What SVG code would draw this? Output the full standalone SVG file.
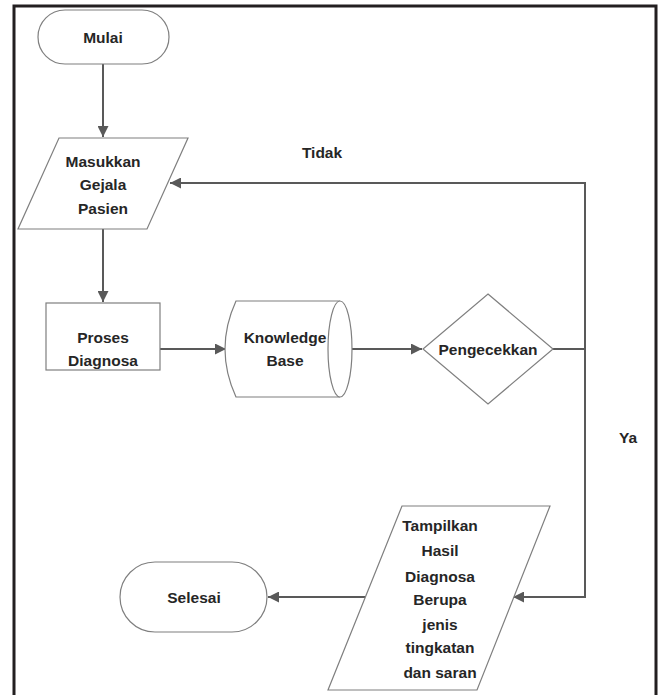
<svg xmlns="http://www.w3.org/2000/svg" width="662" height="695" viewBox="0 0 662 695">
<style>
.shape{fill:#fff;stroke:#7f7f7f;stroke-width:1.2}
.conn{fill:none;stroke:#595959;stroke-width:2}
.t{font-family:"Liberation Sans",Arial,sans-serif;font-weight:bold;font-size:15.5px;fill:#262626;text-anchor:middle}
</style>
<defs>
<marker id="ah" viewBox="0 0 10 10" refX="10" refY="5" markerWidth="11" markerHeight="11" markerUnits="userSpaceOnUse" orient="auto">
<path d="M0,0 L10,5 L0,10 z" fill="#595959"/>
</marker>
</defs>
<rect width="662" height="695" fill="#fff"/>
<path d="M14,700 V6 H656 V700" fill="none" stroke="#231f20" stroke-width="3"/>
<g id="connectors">
<path class="conn" d="M103,64 V137" marker-end="url(#ah)"/>
<path class="conn" d="M103,229 V302" marker-end="url(#ah)"/>
<path class="conn" d="M160,349 H226" marker-end="url(#ah)"/>
<path class="conn" d="M340,349 H422" marker-end="url(#ah)"/>
<path class="conn" d="M553,349 H585 V183 H170" marker-end="url(#ah)"/>
<path class="conn" d="M585,349 V597 H513" marker-end="url(#ah)"/>
<path class="conn" d="M365,597 H268" marker-end="url(#ah)"/>
<text class="t" x="322" y="158">Tidak</text>
<text class="t" x="628" y="443">Ya</text>
</g>
<g id="mulai">
<rect class="shape" x="38" y="10" width="131" height="54" rx="27"/>
<text class="t" x="103" y="43">Mulai</text>
</g>
<g id="masukkan">
<path class="shape" d="M59,138 H188 L147,229 H18 z"/>
<text class="t" x="103" y="167">Masukkan</text>
<text class="t" x="103" y="190">Gejala</text>
<text class="t" x="103" y="214">Pasien</text>
</g>
<g id="proses">
<rect class="shape" x="46" y="303" width="114" height="67"/>
<text class="t" x="103" y="343">Proses</text>
<text class="t" x="103" y="366">Diagnosa</text>
</g>
<g id="knowledge">
<path class="shape" d="M236,301 H340 A12,48 0 0 1 340,397 H236 Q214,349 236,301 z"/>
<path class="shape" fill="none" d="M340,301 A12,48 0 0 0 340,397"/>
<text class="t" x="285" y="343">Knowledge</text>
<text class="t" x="285" y="366">Base</text>
</g>
<g id="pengecekkan">
<path class="shape" d="M488,294 L553,349 L488,404 L423,349 z"/>
<text class="t" x="488" y="355">Pengecekkan</text>
</g>
<g id="tampilkan">
<path class="shape" d="M402,506 H550 L477,690 H328 z"/>
<text class="t" x="440" y="531">Tampilkan</text>
<text class="t" x="440" y="556">Hasil</text>
<text class="t" x="440" y="582">Diagnosa</text>
<text class="t" x="440" y="605">Berupa</text>
<text class="t" x="440" y="630">jenis</text>
<text class="t" x="440" y="653">tingkatan</text>
<text class="t" x="440" y="678">dan saran</text>
</g>
<g id="selesai">
<rect class="shape" x="120" y="562" width="147" height="70" rx="35"/>
<text class="t" x="194" y="603">Selesai</text>
</g>
</svg>
